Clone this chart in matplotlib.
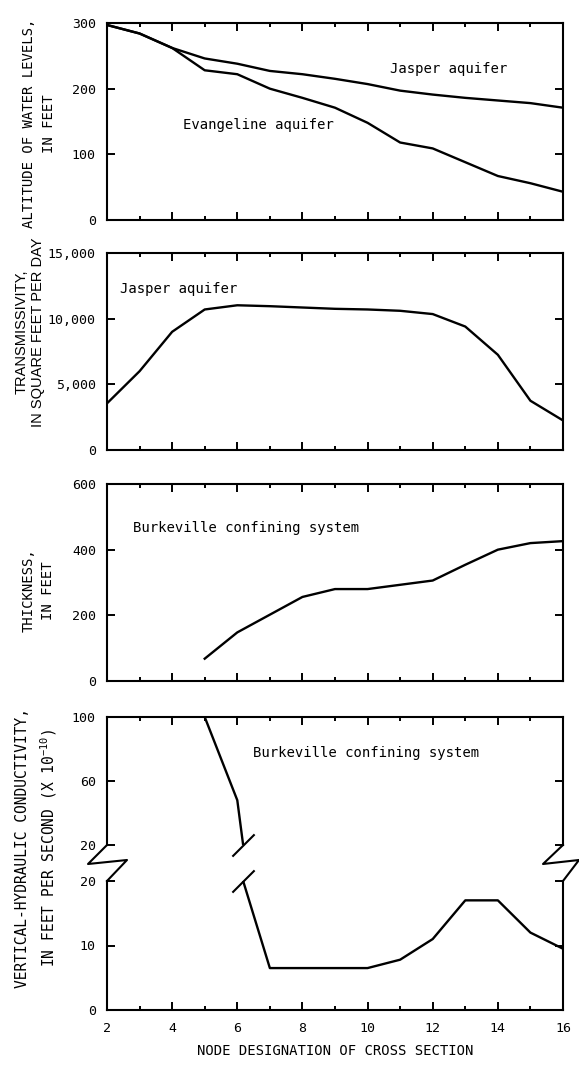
import matplotlib
matplotlib.use("Agg")
import matplotlib.pyplot as plt
from matplotlib.ticker import MultipleLocator, FuncFormatter

plt.rcParams["font.family"] = ["DejaVu Sans Mono"]
plt.rcParams["mathtext.fontset"] = "custom"
plt.rcParams["mathtext.rm"] = "DejaVu Sans Mono"
plt.rcParams["mathtext.it"] = "DejaVu Sans Mono"

# ---- data ----
nodes = [2, 3, 4, 5, 6, 7, 8, 9, 10, 11, 12, 13, 14, 15, 16]
jasper_level = [297, 284, 262, 246, 238, 227, 222, 215, 207, 197, 191, 186, 182, 178, 171]
evangeline_level = [297, 284, 262, 228, 222, 200, 186, 171, 148, 118, 109, 88, 67, 56, 43]

transmissivity = [3550, 6000, 9000, 10700, 11020, 10950, 10850, 10750, 10700,
                  10600, 10350, 9400, 7250, 3750, 2250]

thick_nodes = [5, 6, 7, 8, 9, 10, 11, 12, 13, 14, 15, 16]
thickness = [68, 148, 202, 256, 280, 280, 293, 306, 354, 400, 420, 426]

cond_nodes = [5, 6, 6.18, 7, 8, 9, 10, 11, 12, 13, 14, 15, 16]
conductivity = [100, 48, 20, 6.5, 6.5, 6.5, 6.5, 7.8, 11, 17, 17, 12, 9.5]
break_value = 20

W, H = 579, 1067
LW = 1.7


def panel(top, bottom):
    # pixel rows -> figure fraction
    return [107 / W, 1 - bottom / H, 456 / W, (bottom - top) / H]


def style(ax, top=True, bottom=True):
    ax.set_xlim(2, 16)
    ax.xaxis.set_major_locator(MultipleLocator(2))
    ax.xaxis.set_minor_locator(MultipleLocator(1))
    ax.tick_params(which="both", direction="in", width=1.4,
                   top=top, bottom=bottom, left=True, right=True,
                   labelsize=9.5, pad=8)
    ax.tick_params(which="major", length=6)
    ax.tick_params(which="minor", length=3)
    ax.tick_params(axis="y", which="minor", left=False, right=False)
    ax.tick_params(axis="x", labelbottom=False)
    for s in ax.spines.values():
        s.set_linewidth(1.5)


fig = plt.figure(figsize=(W / 100, H / 100), dpi=100)

# ---- panel 1: water levels ----
ax1 = fig.add_axes(panel(23, 220))
ax1.plot(nodes, jasper_level, color="black", lw=LW)
ax1.plot(nodes, evangeline_level, color="black", lw=LW)
ax1.set_ylim(0, 300)
ax1.set_yticks([0, 100, 200, 300])
style(ax1)
ax1.text(10.7, 230, "Jasper aquifer", fontsize=10, va="center")
ax1.text(4.33, 145, "Evangeline aquifer", fontsize=10, va="center")
ax1.set_ylabel("ALTITUDE OF WATER LEVELS,\nIN FEET", fontsize=10, linespacing=1.5)
ax1.yaxis.set_label_coords(-0.112, 0.49)

# ---- panel 2: transmissivity ----
ax2 = fig.add_axes(panel(253, 450))
ax2.plot(nodes, transmissivity, color="black", lw=LW)
ax2.set_ylim(0, 15000)
ax2.set_yticks([0, 5000, 10000, 15000])
ax2.yaxis.set_major_formatter(FuncFormatter(lambda v, p: f"{int(v):,}"))
style(ax2)
ax2.text(2.4, 12260, "Jasper aquifer", fontsize=10, va="center")
ax2.set_ylabel("TRANSMISSIVITY,\nIN SQUARE FEET PER DAY", fontsize=10.5,
               family="Liberation Sans", linespacing=1.2)
ax2.yaxis.set_label_coords(-0.136, 0.6)

# ---- panel 3: thickness ----
ax3 = fig.add_axes(panel(484, 681))
ax3.plot(thick_nodes, thickness, color="black", lw=LW)
ax3.set_ylim(0, 600)
ax3.set_yticks([0, 200, 400, 600])
style(ax3)
ax3.text(2.8, 466, "Burkeville confining system", fontsize=10, va="center")
ax3.set_ylabel("THICKNESS,\nIN FEET", fontsize=10, linespacing=1.5)
ax3.yaxis.set_label_coords(-0.114, 0.46)

# ---- panel 4: vertical conductivity, broken axis ----
ax4a = fig.add_axes(panel(717, 845))
ax4b = fig.add_axes(panel(881, 1010))
for ax in (ax4a, ax4b):
    ax.plot(cond_nodes, conductivity, color="black", lw=LW)
ax4a.set_ylim(break_value, 100)
ax4a.set_yticks([20, 60, 100])
ax4b.set_ylim(0, break_value)
ax4b.set_yticks([0, 10, 20])
style(ax4a, top=True, bottom=False)
style(ax4b, top=False, bottom=True)
ax4a.spines["bottom"].set_visible(False)
ax4b.spines["top"].set_visible(False)
ax4b.tick_params(axis="x", labelbottom=True, pad=9)
ax4b.set_xlabel("NODE DESIGNATION OF CROSS SECTION", fontsize=10, labelpad=6)
ax4a.text(6.48, 77.5, "Burkeville confining system", fontsize=10, va="center")

# Z-shaped break marks on the side spines
hpx = 128.0
for xs, dx1, dx2 in [(0.0, -19, 20), (1.0, -20, 16)]:
    zx = [xs, xs + dx1 / 456, xs + dx2 / 456, xs]
    zy = [0, -19 / hpx, -15 / hpx, -36 / hpx]
    ax4a.plot(zx, zy, transform=ax4a.transAxes, color="black", lw=1.5,
              clip_on=False)

# slashes across the curve where it crosses the break
break_node = cond_nodes[conductivity.index(break_value)]
for ax, yv in ((ax4a, break_value), (ax4b, break_value)):
    ax.plot([break_node], [yv], marker=[(-1, -1), (1, 1)], ms=16,
            mec="black", mew=1.5, clip_on=False)

fig.text(37 / W, 1 - 848 / H,
         "VERTICAL-HYDRAULIC CONDUCTIVITY,\nIN FEET PER SECOND (X 10$^{-10}$)",
         rotation=90, fontsize=10.5, linespacing=1.5, ha="center", va="center")

fig.savefig("out.png", dpi=100)
